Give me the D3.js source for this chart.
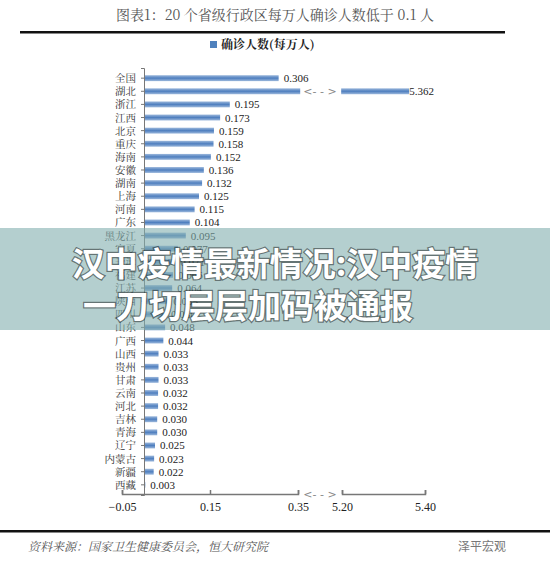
<!DOCTYPE html><html><head><meta charset="utf-8"><script src="https://cdn.jsdelivr.net/npm/d3@7"></script>
<style>body{margin:0;background:#fff}</style></head><body><svg id="c" width="550" height="569"></svg>
<script>
const categories=["全国","湖北","浙江","江西","北京","重庆","海南","安徽","湖南","上海","河南","广东","黑龙江","宁夏","天津","福建","江苏","陕西","四川","山东","广西","山西","贵州","甘肃","云南","河北","吉林","青海","辽宁","内蒙古","新疆","西藏"];
const values=[0.306,5.362,0.195,0.173,0.159,0.158,0.152,0.136,0.132,0.125,0.115,0.104,0.095,0.077,0.071,0.066,0.064,0.055,0.050,0.048,0.044,0.033,0.033,0.033,0.032,0.032,0.030,0.030,0.025,0.023,0.022,0.003];
const ticksLow=[-0.05,0.15,0.35], ticksHigh=[5.20,5.40];
const svg=d3.select("#c");
const serif="'Noto Serif CJK SC','Noto Sans CJK SC',serif";
svg.append("text").attr("x",275).attr("y",20).attr("text-anchor","middle").attr("font-size",14).attr("fill","#555").attr("font-family",serif).text("图表1：20 个省级行政区每万人确诊人数低于 0.1 人");
svg.append("rect").attr("x",20).attr("y",31).attr("width",485).attr("height",2.5).attr("fill","#111");
svg.append("rect").attr("x",210).attr("y",41).attr("width",7).attr("height",7).attr("fill","#4f81bd");
svg.append("text").attr("x",221).attr("y",49).attr("font-size",12).attr("font-weight","bold").attr("fill","#222").attr("font-family",serif).text("确诊人数(每万人)");
const xL=d3.scaleLinear().domain([-0.05,0.35]).range([122,298]);
const xH=d3.scaleLinear().domain([5.20,5.40]).range([342,425]);
const y=d3.scaleBand().domain(categories).range([68,495]).padding(0.55);
const defs=svg.append("defs");const g=defs.append("linearGradient").attr("id","bg").attr("x1",0).attr("x2",0).attr("y1",0).attr("y2",1);
g.append("stop").attr("offset","0").attr("stop-color","#9cb8dc");g.append("stop").attr("offset","0.5").attr("stop-color","#4f7fbf");g.append("stop").attr("offset","1").attr("stop-color","#9cb8dc");
categories.forEach((c,i)=>{const v=values[i];const yy=y(c),h=y.bandwidth();
 if(v<=0.35){svg.append("rect").attr("x",xL(0)).attr("y",yy).attr("width",xL(v)-xL(0)).attr("height",h).attr("fill","url(#bg)");
  svg.append("text").attr("x",xL(v)+5).attr("y",yy+h/2+4).attr("font-size",11).attr("fill","#222").attr("font-family","Liberation Serif").text(v.toFixed(3));}
 else{svg.append("rect").attr("x",xL(0)).attr("y",yy).attr("width",xL(0.355)-xL(0)).attr("height",h).attr("fill","url(#bg)");
  svg.append("rect").attr("x",xH(5.198)).attr("y",yy).attr("width",xH(v)-xH(5.198)).attr("height",h).attr("fill","url(#bg)");
  svg.append("text").attr("x",xH(v)).attr("y",yy+h/2+4).attr("font-size",11).attr("fill","#222").attr("font-family","Liberation Serif").text(v.toFixed(3));
  svg.append("text").attr("x",320).attr("y",yy+h/2+4).attr("text-anchor","middle").attr("font-size",11).attr("fill","#888").attr("font-family","DejaVu Sans").text("<- - >");}
 svg.append("text").attr("x",xL(0)-8).attr("y",yy+h/2+4).attr("text-anchor","end").attr("font-size",10.5).attr("fill","#333").attr("font-family",serif).text(c);
});
const ay=d3.axisLeft(y).tickSize(3).tickFormat("");
svg.append("g").attr("transform",`translate(${xL(0)},0)`).call(ay).call(s=>s.selectAll("path,line").attr("stroke","#777"));
const axL=d3.axisBottom(xL).tickValues(ticksLow).tickSize(-4).tickFormat(d3.format(".2f"));
const axH=d3.axisBottom(xH).tickValues(ticksHigh).tickSize(-4).tickFormat(d3.format(".2f"));
[axL,axH].forEach(a=>{svg.append("g").attr("transform","translate(0,494)").call(a).call(s=>{s.selectAll("path,line").attr("stroke","#777").attr("stroke-width",1.5);s.selectAll("text").attr("dy",14).attr("font-size",12).attr("fill","#222").attr("font-family","Liberation Serif");});});
svg.append("text").attr("x",320).attr("y",498).attr("text-anchor","middle").attr("font-size",11).attr("fill","#888").attr("font-family","DejaVu Sans").text("<- - >");
svg.append("rect").attr("x",0).attr("y",530).attr("width",550).attr("height",2.5).attr("fill","#111");
svg.append("text").attr("x",28).attr("y",551).attr("font-size",12).attr("font-style","italic").attr("fill","#555").attr("font-family",serif).text("资料来源：国家卫生健康委员会，恒大研究院");
svg.append("text").attr("x",482).attr("y",551).attr("font-size",12).attr("fill","#777").attr("font-family","Noto Sans CJK SC").attr("text-anchor","middle").text("泽平宏观");
svg.append("rect").attr("x",0).attr("y",228).attr("width",550).attr("height",102).attr("fill","rgba(130,175,175,0.6)");
const bt=svg.append("g").attr("font-family","Noto Sans CJK SC").attr("font-weight","bold").attr("font-size",33).attr("fill","#fff").attr("text-anchor","middle").style("paint-order","stroke").attr("stroke","rgba(0,0,0,0.45)").attr("stroke-width",2.5);
bt.append("text").attr("x",275).attr("y",276).text("汉中疫情最新情况:汉中疫情");
bt.append("text").attr("x",248).attr("y",318).text("一刀切层层加码被通报");
</script></body></html>
